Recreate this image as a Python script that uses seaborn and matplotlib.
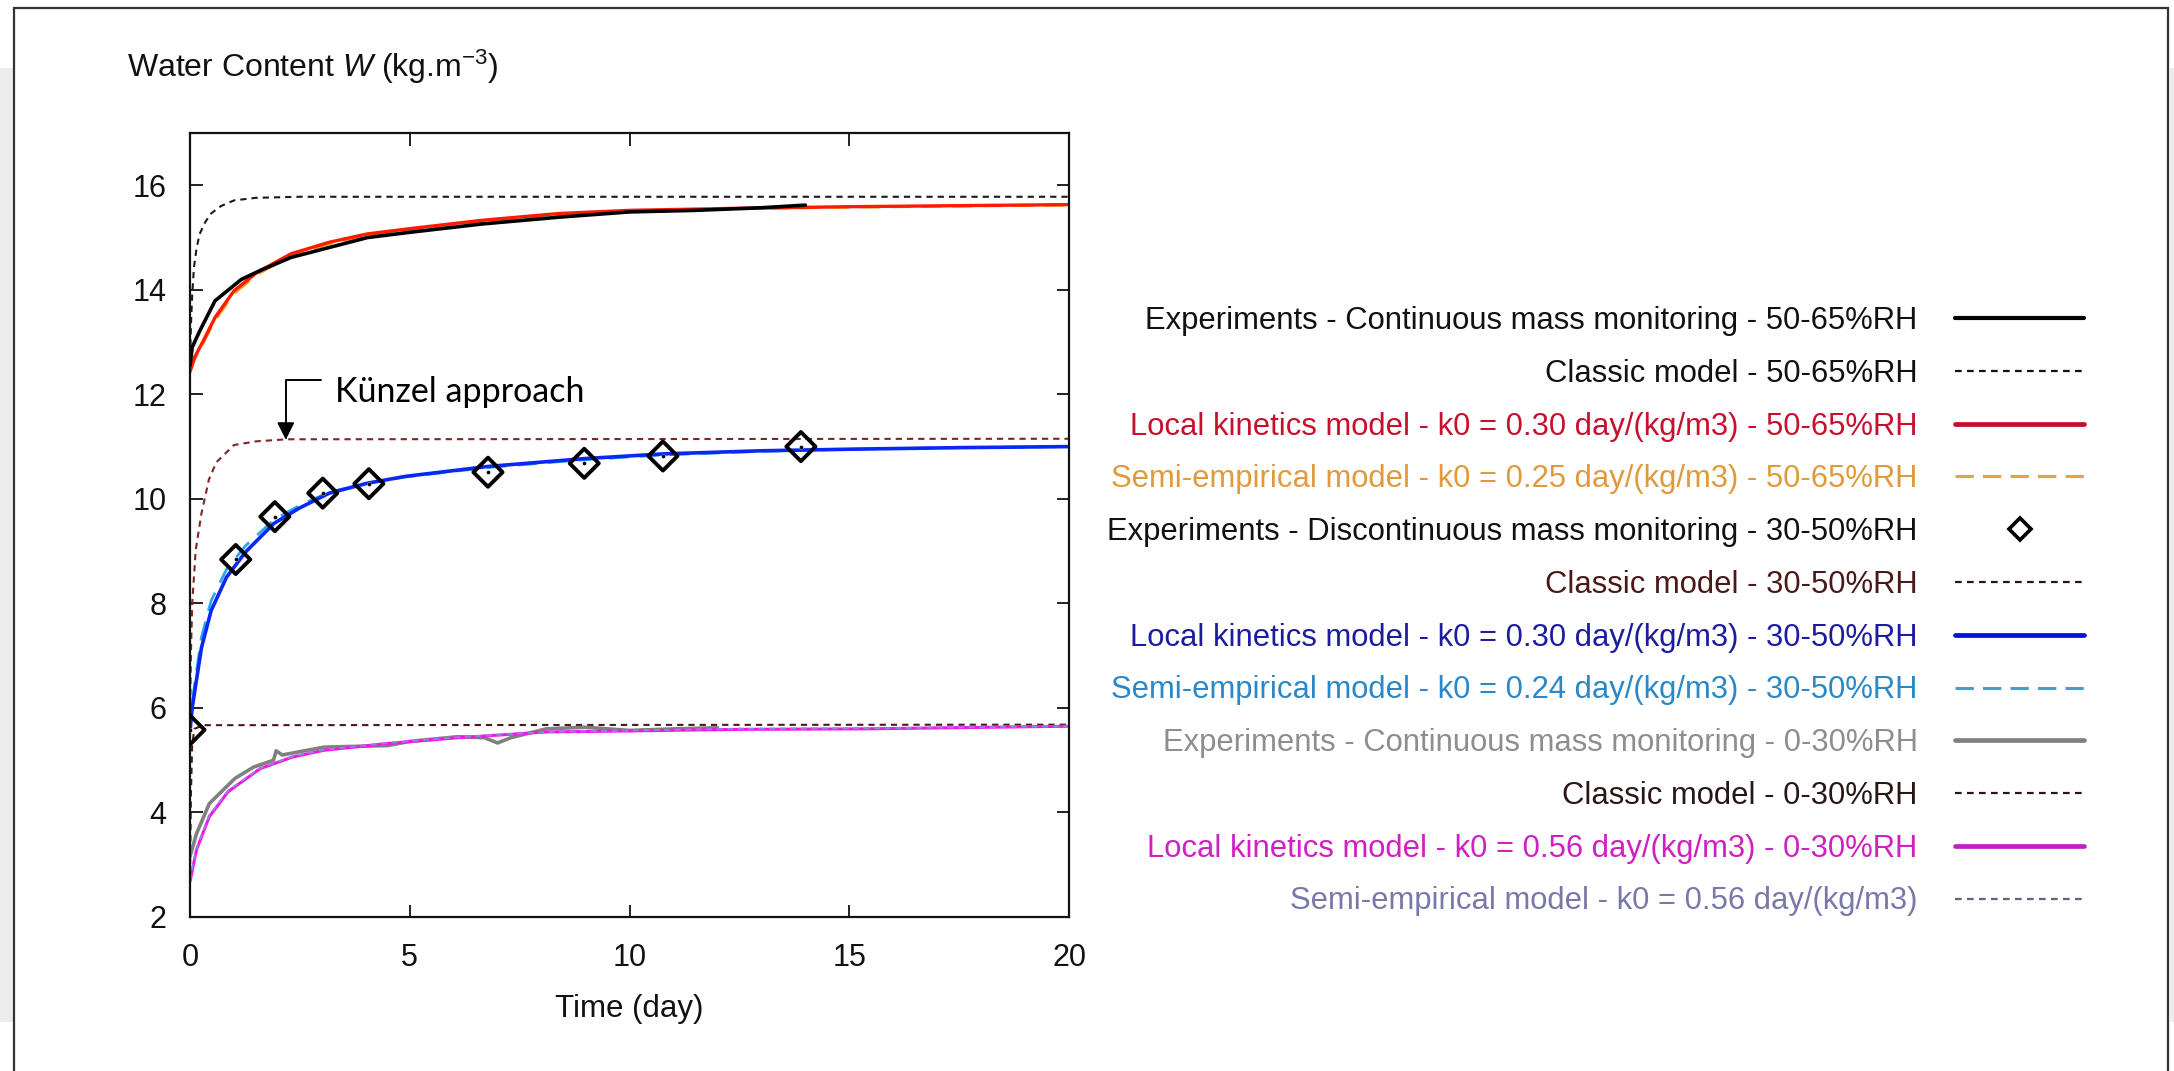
import numpy as np
import pandas as pd
import matplotlib
matplotlib.use("Agg")
import matplotlib.pyplot as plt
from matplotlib import font_manager
from matplotlib.lines import Line2D
from matplotlib.patches import Rectangle
import seaborn as sns

# ---- 50-65 %RH -------------------------------------------------------------
t_exp_hi = [0, 0.05, 0.22, 0.57, 1.17, 1.6, 2.3, 3.17, 4.04, 5.0, 6.65, 8.4, 10.0, 11.5, 13.0, 14.0]
w_exp_hi = [12.55, 12.9, 13.21, 13.79, 14.2, 14.37, 14.62, 14.81, 15.0, 15.1, 15.26, 15.39, 15.49, 15.52, 15.57, 15.62]

t_cls_hi = [0, 0.02, 0.05, 0.09, 0.15, 0.22, 0.35, 0.48, 0.7, 1.0, 1.5, 2.5, 20]
w_cls_hi = [12.5, 13.3, 13.9, 14.43, 14.8, 15.07, 15.3, 15.46, 15.6, 15.71, 15.76, 15.78, 15.78]

t_mod_hi = [0, 0.1, 0.3, 0.57, 1.0, 1.52, 2.3, 3.17, 4.04, 5.0, 6.65, 8.4, 10.0, 12.5, 15.0, 17.5, 20.0]
w_loc_hi = [12.44, 12.7, 13.02, 13.47, 13.98, 14.33, 14.69, 14.91, 15.07, 15.17, 15.33, 15.46, 15.52, 15.56, 15.59, 15.61, 15.63]
w_semi_hi = [12.42, 12.66, 12.98, 13.42, 13.93, 14.29, 14.66, 14.88, 15.04, 15.15, 15.31, 15.43, 15.5, 15.55, 15.58, 15.6, 15.62]

# ---- 30-50 %RH -------------------------------------------------------------
t_disc_mid = [0, 1.04, 1.93, 3.02, 4.07, 6.78, 8.97, 10.76, 13.9]
w_disc_mid = [5.58, 8.84, 9.66, 10.11, 10.29, 10.51, 10.68, 10.82, 11.0]

t_cls_mid = [0, 0.02, 0.05, 0.13, 0.26, 0.43, 0.6, 1.0, 1.5, 2.2, 20]
w_cls_mid = [5.6, 7.0, 8.0, 9.02, 9.72, 10.37, 10.7, 11.03, 11.1, 11.14, 11.15]

t_mod_mid = [0, 0.05, 0.13, 0.26, 0.48, 0.83, 1.26, 1.91, 2.48, 3.17, 4.04, 4.9, 6.78, 8.97, 10.76, 13.0, 15.0, 17.5, 20.0]
w_loc_mid = [5.55, 6.0, 6.44, 7.15, 7.86, 8.5, 8.98, 9.53, 9.82, 10.11, 10.3, 10.43, 10.62, 10.77, 10.86, 10.92, 10.95, 10.98, 11.0]
w_semi_mid = [5.55, 6.1, 6.6, 7.35, 8.05, 8.65, 9.1, 9.6, 9.87, 10.13, 10.3, 10.42, 10.6, 10.75, 10.84, 10.91, 10.95, 10.98, 11.0]

# ---- 0-30 %RH --------------------------------------------------------------
t_exp_lo = [0, 0.15, 0.44, 1.02, 1.45, 1.9, 1.96, 2.1, 3.05, 4.5, 5.0, 6.1, 6.7, 7.0, 7.3, 8.1, 9.0, 10.0, 11.05, 12.0]
w_exp_lo = [3.16, 3.6, 4.17, 4.65, 4.87, 5.0, 5.18, 5.1, 5.25, 5.28, 5.36, 5.45, 5.43, 5.33, 5.43, 5.6, 5.63, 5.57, 5.6, 5.62]

t_cls_lo = [0, 0.02, 0.05, 0.1, 0.3, 20]
w_cls_lo = [2.8, 4.3, 5.3, 5.6, 5.67, 5.68]

t_mod_lo = [0, 0.15, 0.44, 0.87, 1.6, 2.33, 3.05, 4.5, 6.1, 8.1, 10.0, 12.5, 15.4, 20.0]
w_loc_lo = [2.68, 3.29, 3.92, 4.4, 4.84, 5.06, 5.19, 5.32, 5.43, 5.54, 5.56, 5.59, 5.6, 5.65]
w_semi_lo = [2.7, 3.32, 3.95, 4.42, 4.85, 5.07, 5.2, 5.33, 5.44, 5.54, 5.57, 5.6, 5.61, 5.65]

x_ticks = [0, 5, 10, 15, 20]
y_ticks = [2, 4, 6, 8, 10, 12, 14, 16]

legend_labels = [
    "Experiments - Continuous mass monitoring - 50-65%RH",
    "Classic model - 50-65%RH",
    "Local kinetics model - k0 = 0.30 day/(kg/m3) - 50-65%RH",
    "Semi-empirical model - k0 = 0.25 day/(kg/m3) - 50-65%RH",
    "Experiments - Discontinuous mass monitoring - 30-50%RH",
    "Classic model - 30-50%RH",
    "Local kinetics model - k0 = 0.30 day/(kg/m3) - 30-50%RH",
    "Semi-empirical model - k0 = 0.24 day/(kg/m3) - 30-50%RH",
    "Experiments - Continuous mass monitoring - 0-30%RH",
    "Classic model - 0-30%RH",
    "Local kinetics model - k0 = 0.56 day/(kg/m3) - 0-30%RH",
    "Semi-empirical model - k0 = 0.56 day/(kg/m3)",
]
label_colors = ["#111111", "#111111", "#c8102e", "#e09a3c", "#111111", "#4a1818",
                "#1c1ca0", "#2a88c8", "#8e8e8e", "#2a1616", "#d020c0", "#7a78a8"]

# ---- style -----------------------------------------------------------------
sns.set_theme(style="ticks")
installed = {f.name for f in font_manager.fontManager.ttflist}
narrow = "Liberation Sans Narrow" if "Liberation Sans Narrow" in installed else "Liberation Sans"
plt.rcParams["font.family"] = [narrow, "DejaVu Sans"]
plt.rcParams["mathtext.fontset"] = "custom"
plt.rcParams["mathtext.rm"] = narrow
plt.rcParams["mathtext.it"] = narrow + ":italic"

W, H = 2174, 1071
fig = plt.figure(figsize=(W / 100, H / 100), dpi=100)
fig.patch.set_facecolor("white")

# page decorations: light side strips and outer frame
fig.add_artist(Rectangle((0, 1 - 1022 / H), 13 / W, (1022 - 68) / H, transform=fig.transFigure,
                         facecolor="#ececec", edgecolor="none", zorder=0))
fig.add_artist(Rectangle((2170 / W, 1 - 1022 / H), 4 / W, (1022 - 68) / H, transform=fig.transFigure,
                         facecolor="#ececec", edgecolor="none", zorder=0))
fig.add_artist(Rectangle((14 / W, -0.05), (2168 - 14) / W, 1 - 8 / H + 0.05, transform=fig.transFigure,
                         facecolor="none", edgecolor="#333333", linewidth=1.6, zorder=1))

ax = fig.add_axes([190 / W, 1 - 917 / H, (1069 - 190) / W, (917 - 133) / H])

dotted = (0, (3.0, 2.4))
longdash = (0, (7, 4))

# classic models
sns.lineplot(x=t_cls_hi, y=w_cls_hi, ax=ax, color="#1a1a1a", lw=1.5, linestyle=dotted)
sns.lineplot(x=t_cls_mid, y=w_cls_mid, ax=ax, color="#802424", lw=1.5, linestyle=dotted)
sns.lineplot(x=t_cls_lo, y=w_cls_lo, ax=ax, color="#4a1a1a", lw=1.5, linestyle=dotted)

# 50-65 %RH
sns.lineplot(x=t_mod_hi, y=w_semi_hi, ax=ax, color="#ff9a10", lw=2.0, linestyle=longdash)
sns.lineplot(x=t_mod_hi, y=w_loc_hi, ax=ax, color="#ff1a00", lw=2.4)
sns.lineplot(x=t_exp_hi, y=w_exp_hi, ax=ax, color="#000000", lw=2.6)

# 30-50 %RH
sns.lineplot(x=t_mod_mid, y=w_semi_mid, ax=ax, color="#2aa8f0", lw=2.0, linestyle=longdash)
sns.lineplot(x=t_mod_mid, y=w_loc_mid, ax=ax, color="#0a28f5", lw=2.6)
sns.scatterplot(x=t_disc_mid, y=w_disc_mid, ax=ax, marker="D", s=220, facecolor="none",
                edgecolor="black", linewidth=2.8, zorder=5)
sns.scatterplot(x=t_disc_mid, y=w_disc_mid, ax=ax, marker="o", s=8, color="black", zorder=6)

# 0-30 %RH
sns.lineplot(x=t_exp_lo, y=w_exp_lo, ax=ax, color="#808080", lw=2.6)
sns.lineplot(x=t_mod_lo, y=w_loc_lo, ax=ax, color="#ff10f0", lw=2.2)
sns.lineplot(x=t_mod_lo, y=w_semi_lo, ax=ax, color="#8a8ad0", lw=1.4, linestyle=dotted)

ax.set_xlim(0, 20)
ax.set_ylim(2, 17)
ax.set_xticks(x_ticks)
ax.set_yticks(y_ticks)
ax.tick_params(direction="in", length=9, width=1.3, top=True, right=True,
               labelsize=22, colors="#111111")
ax.tick_params(axis="x", pad=19)
ax.tick_params(axis="y", pad=17)
for s in ax.spines.values():
    s.set_visible(True)
    s.set_linewidth(1.6)
    s.set_color("#111111")
ax.set_xlabel("Time (day)", fontsize=22.5, labelpad=15, color="#111111")
ax.set_ylabel("")

fig.text(127 / W, 1 - 67 / H, r"Water Content $\mathit{W}$ (kg.m$^{\mathregular{-3}}$)",
         fontsize=23, ha="left", va="center", color="#111111")

# annotation on the classic 30-50 %RH curve
ax.annotate("", xy=(2.18, 11.13), xytext=(2.98, 12.28),
            arrowprops=dict(arrowstyle="-|>", connectionstyle="angle,angleA=0,angleB=90,rad=0",
                            color="black", lw=1.4, mutation_scale=26, shrinkA=0, shrinkB=0))
ax.text(3.3, 12.05, "Künzel approach", fontsize=24.5, ha="left", va="center",
        family=["Lato", "DejaVu Sans"], color="black")

# legend
handles = [
    Line2D([], [], color="#000000", lw=3),
    Line2D([], [], color="#111111", lw=1.6, linestyle=dotted),
    Line2D([], [], color="#c0102a", lw=3.4),
    Line2D([], [], color="#e8a040", lw=2.2, linestyle=(0, (6, 3))),
    Line2D([], [], color="black", marker="D", markersize=11, markerfacecolor="none",
           markeredgewidth=2.6, linestyle="none"),
    Line2D([], [], color="#301414", lw=1.6, linestyle=dotted),
    Line2D([], [], color="#0010e0", lw=3.4),
    Line2D([], [], color="#40a0d0", lw=2.2, linestyle=(0, (6, 3))),
    Line2D([], [], color="#808080", lw=3.4),
    Line2D([], [], color="#301414", lw=1.6, linestyle=dotted),
    Line2D([], [], color="#c020c0", lw=3.4),
    Line2D([], [], color="#606080", lw=1.6, linestyle=dotted),
]
leg = fig.legend(handles, legend_labels, loc="upper right",
                 bbox_to_anchor=(2084 / W, 1 - 306 / H), markerfirst=False, frameon=False,
                 fontsize=22.3, handlelength=4.15, handletextpad=1.22, labelspacing=0.735,
                 borderpad=0, borderaxespad=0)
for txt, c in zip(leg.get_texts(), label_colors):
    txt.set_color(c)

fig.savefig("out.png", dpi=100, facecolor="white")
